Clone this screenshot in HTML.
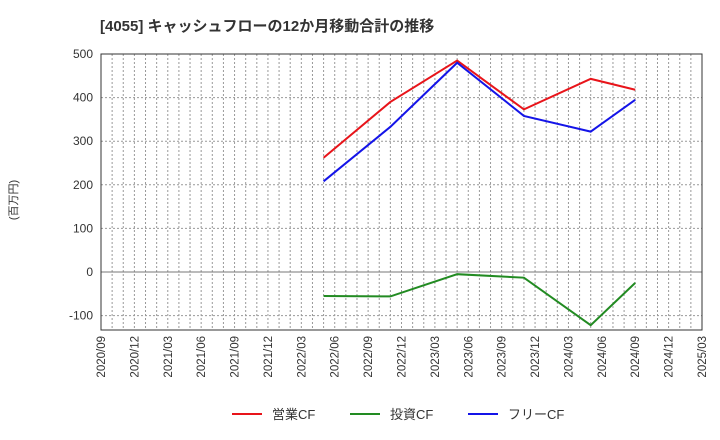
<!DOCTYPE html>
<html><head><meta charset="utf-8"><style>
body{margin:0;background:#fff;}
svg{display:block;font-family:"Liberation Sans","Noto Sans CJK JP",sans-serif;}
</style></head><body>
<svg id="chart" width="720" height="440">
<text x="100" y="31" font-size="15" font-weight="bold" fill="#333">[4055]  キャッシュフローの12か月移動合計の推移</text>
<text transform="translate(17,200) rotate(-90)" font-size="11" fill="#333" text-anchor="middle">(百万円)</text>
<g id="grid"></g><g id="axes"></g><g id="series"></g>
<g>
<line x1="232" y1="414" x2="262" y2="414" stroke="#e8141a" stroke-width="2"/>
<text x="272" y="419" font-size="13" fill="#333">営業CF</text>
<line x1="350" y1="414" x2="380" y2="414" stroke="#228b22" stroke-width="2"/>
<text x="390" y="419" font-size="13" fill="#333">投資CF</text>
<line x1="468" y1="414" x2="498" y2="414" stroke="#1414e8" stroke-width="2"/>
<text x="508" y="419" font-size="13" fill="#333">フリーCF</text>
</g>
</svg>
<script>
const xLabels=["2020/09","2020/12","2021/03","2021/06","2021/09","2021/12","2022/03","2022/06","2022/09","2022/12","2023/03","2023/06","2023/09","2023/12","2024/03","2024/06","2024/09","2024/12","2025/03"];
const yTicks=[500,400,300,200,100,0,-100];
const pointMonths=[20,26,32,38,44,48];
const opCF=[262,390,485,373,443,418];
const invCF=[-55,-56,-5,-13,-122,-25];
const freeCF=[208,333,480,358,322,395];
const L=101,R=702,T=54,B=330,ymax=500,ymin=-133;
const xm=m=>L+(R-L)*m/54;
const x=i=>xm(i*3);
const y=v=>T+(ymax-v)*(B-T)/(ymax-ymin);
const ns="http://www.w3.org/2000/svg";
function mk(tag,attrs,parent){const e=document.createElementNS(ns,tag);for(const k in attrs)e.setAttribute(k,attrs[k]);parent.appendChild(e);return e;}
const grid=document.getElementById('grid'),axes=document.getElementById('axes'),ser=document.getElementById('series');
for(let m=1;m<54;m++){const xx=xm(m);const l=mk('line',{x1:xx,x2:xx,y1:T,y2:B,stroke:'#999','stroke-dasharray':'2,2','stroke-width':1},grid);

}
yTicks.forEach(v=>{const l=mk('line',{x1:L,x2:R,y1:y(v),y2:y(v),stroke:v===0?'#777':'#999','stroke-dasharray':v===0?'':'2,2'},grid);


const t=mk('text',{x:L-8,y:y(v)+4,'font-size':12,fill:'#333','text-anchor':'end'},axes);t.textContent=v;

});
xLabels.forEach((s,i)=>{const t=mk('text',{transform:`translate(${x(i)+4},${B+6}) rotate(-90)`,'font-size':11.5,fill:'#333','text-anchor':'end'},axes);t.textContent=s;

});
const fr=mk('rect',{x:L,y:T,width:R-L,height:B-T,fill:'none',stroke:'#333','stroke-width':1},axes);


[[opCF,'#e8141a','operating-cf-line'],[invCF,'#228b22','investing-cf-line'],[freeCF,'#1414e8','free-cf-line']].forEach(([d,c,n])=>{
const p=mk('polyline',{points:d.map((v,k)=>xm(pointMonths[k])+','+y(v)).join(' '),fill:'none',stroke:c,'stroke-width':2},ser);

});
</script>
</body></html>
